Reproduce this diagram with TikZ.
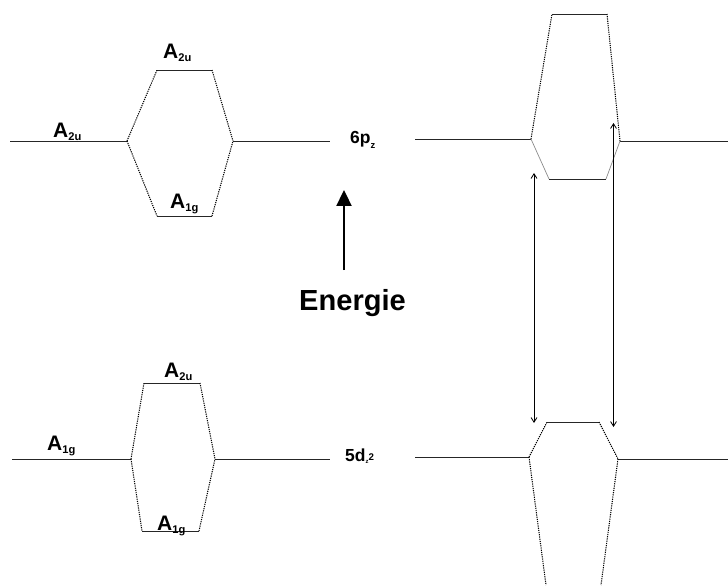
\documentclass[tikz,border=0pt]{standalone}
\usepackage{fontspec}
\setmainfont{Liberation Sans}
\usetikzlibrary{arrows.meta}

\newcommand{\lo}[1]{\raisebox{-0.3ex}{\fontsize{9.5}{10}\selectfont #1}}

\begin{document}
\begin{tikzpicture}[
    x=0.03cm, y=-0.03cm,
    level/.style={line width=0.8pt, black!85},
    link/.style={dash pattern=on 1pt off 0.9pt, line width=0.9pt, black},
    gap/.style={line width=0.6pt, black!45},
    sym/.style={anchor=base west, inner sep=0pt, font=\fontsize{17.9}{18}\selectfont\bfseries},
    orb/.style={anchor=base west, inner sep=0pt, font=\fontsize{14.9}{15}\selectfont\bfseries},
    trans/.style={{Straight Barb[length=4pt,width=5pt]}-{Straight Barb[length=4pt,width=5pt]}, line width=0.7pt},
    up/.style={-{Triangle[length=13.6pt,width=12.8pt]}, line width=1.8pt},
]
    \useasboundingbox (0,0) rectangle (728,585);

    % 6pz, left group
    \coordinate (pl0) at (10,141);
    \coordinate (pl1) at (127,141);
    \coordinate (pl2) at (233,141);
    \coordinate (pl3) at (330,141);
    \coordinate (plu1) at (157,70);
    \coordinate (plu2) at (212,70);
    \coordinate (plg1) at (157,216);
    \coordinate (plg2) at (212,216);
    \draw[level] (pl0) -- (pl1);
    \draw[level] (pl2) -- (pl3);
    \draw[level] (plu1) -- (plu2);
    \draw[level] (plg1) -- (plg2);
    \draw[link] (pl1) -- (plu1);
    \draw[link] (plu2) -- (pl2);
    \draw[link] (pl1) -- (plg1);
    \draw[link] (plg2) -- (pl2);
    \node[sym] (pla) at (53,137) {A\lo{2u}};
    \node[sym] (plu) at (163,58) {A\lo{2u}};
    \node[sym] (plg) at (170,208) {A\lo{1g}};

    % 5dz2, left group
    \coordinate (dl0) at (12,459);
    \coordinate (dl1) at (131,459);
    \coordinate (dl2) at (215,459);
    \coordinate (dl3) at (330,459);
    \coordinate (dlu1) at (144,383);
    \coordinate (dlu2) at (200,383);
    \coordinate (dlg1) at (142,531);
    \coordinate (dlg2) at (199,531);
    \draw[level] (dl0) -- (dl1);
    \draw[level] (dl2) -- (dl3);
    \draw[level] (dlu1) -- (dlu2);
    \draw[level] (dlg1) -- (dlg2);
    \draw[link] (dl1) -- (dlu1);
    \draw[link] (dlu2) -- (dl2);
    \draw[link] (dl1) -- (dlg1);
    \draw[link] (dlg2) -- (dl2);
    \node[sym] (dla) at (47,450) {A\lo{1g}};
    \node[sym] (dlu) at (164,377) {A\lo{2u}};
    \node[sym] (dlg) at (157,530) {A\lo{1g}};

    % orbital labels
    \node[orb] (pz) at (350,143) {6p\raisebox{-0.55ex}{\fontsize{8}{8}\selectfont z}};
    \node[orb] (dz) at (345,461) {5d\raisebox{-0.3ex}{\fontsize{5}{5}\selectfont z}\raisebox{0.05ex}{\fontsize{8.3}{9}\selectfont 2}};

    % energy axis
    \coordinate (ebot) at (344,270);
    \coordinate (etop) at (344,190);
    \draw[up] (ebot) -- (etop);
    \node[anchor=base west, inner sep=0pt, font=\fontsize{24.8}{26}\selectfont\bfseries] (en) at (299,310) {Energie};

    % 6pz, right group
    \coordinate (pr0) at (415,139);
    \coordinate (pr1) at (531,139);
    \coordinate (pr2) at (620,141);
    \coordinate (pr3) at (728,141);
    \coordinate (pru1) at (552,14);
    \coordinate (pru2) at (607,14);
    \coordinate (prg1) at (549,179);
    \coordinate (prg2) at (606,179);
    \draw[level] (pr0) -- (pr1);
    \draw[level] (pr2) -- (pr3);
    \draw[level] (pru1) -- (pru2);
    \draw[level] (prg1) -- (prg2);
    \draw[link] (pr1) -- (pru1);
    \draw[link] (pru2) -- (pr2);
    \draw[gap] (pr1) -- (prg1);
    \draw[gap] (prg2) -- (pr2);

    % 5dz2, right group
    \coordinate (dr0) at (415,457);
    \coordinate (dr1) at (529,457);
    \coordinate (dr2) at (618,459);
    \coordinate (dr3) at (728,459);
    \coordinate (dru1) at (547,422);
    \coordinate (dru2) at (599,422);
    \coordinate (drg1) at (546,585);
    \coordinate (drg2) at (601,585);
    \draw[level] (dr0) -- (dr1);
    \draw[level] (dr2) -- (dr3);
    \draw[level] (dru1) -- (dru2);
    \draw[link] (dr1) -- (dru1);
    \draw[link] (dru2) -- (dr2);
    \draw[link] (dr1) -- (drg1);
    \draw[link] (dr2) -- (drg2);

    % transitions
    \coordinate (t1a) at (534,173);
    \coordinate (t1b) at (534,423);
    \coordinate (t2a) at (613.5,123);
    \coordinate (t2b) at (613.5,427);
    \draw[trans] (t1a) -- (t1b);
    \draw[trans] (t2a) -- (t2b);
\end{tikzpicture}
\end{document}
